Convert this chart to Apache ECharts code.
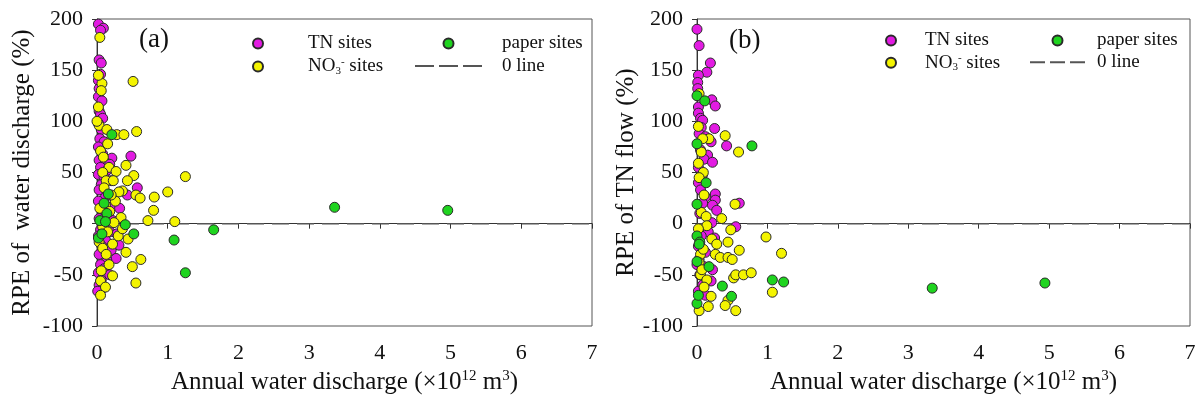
<!DOCTYPE html>
<html>
<head>
<meta charset="utf-8">
<script src="https://cdn.jsdelivr.net/npm/echarts@6/dist/echarts.min.js"></script>
<style>
html,body{margin:0;padding:0;background:#fff;}
#chart{width:1201px;height:401px;}
</style>
</head>
<body>
<div id="chart"></div>
<script>
// ---------- tick labels ----------
const X_TICKS = [0, 1, 2, 3, 4, 5, 6, 7];
const Y_TICKS = [-100, -50, 0, 50, 100, 150, 200];

// ---------- panel (a): RPE of water discharge ----------
const A_TN = [
  [0.02,195],[0.09,191],[0.05,189],[0.03,160],[0.06,157],[0.05,146],[0.02,140],[0.03,132],
  [0.02,124],[0.07,120],[0.03,110],[0.05,107],[0.08,103],[0.02,98],[0.06,92],[0.04,83],
  [0.10,80],[0.02,75],[0.08,68],[0.48,66],[0.21,64],[0.03,62],[0.12,60],[0.18,58],
  [0.05,55],[0.14,52],[0.02,48],[0.10,45],[0.20,42],[0.06,38],[0.57,35],[0.03,33],
  [0.43,28],[0.12,26],[0.02,22],[0.25,18],[0.32,15],[0.08,14],[0.16,8],[0.03,5],
  [0.22,3],[0.10,-2],[0.05,-6],[0.18,-8],[0.28,-10],[0.02,-12],[0.12,-16],[0.31,-21],
  [0.07,-22],[0.20,-26],[0.03,-30],[0.27,-34],[0.14,-36],[0.05,-40],[0.10,-44],[0.02,-48],
  [0.18,-50],[0.06,-55],[0.03,-60],[0.08,-63],[0.01,-66]
];
const A_NO3 = [
  [0.04,182],[0.07,137],[0.51,139],[0.06,130],[0.02,114],[0.03,96],[0.14,92],[0.28,87],
  [0.38,87],[0.56,90],[0.05,71],[0.41,57],[0.17,55],[0.27,51],[0.08,50],[0.52,47],
  [1.25,46],[0.43,42],[0.13,42],[0.23,42],[0.36,32],[0.31,31],[1.00,31],[0.55,28],
  [0.61,25],[0.81,26],[0.26,22],[0.12,18],[0.04,15],[0.80,13],[0.18,12],[0.34,6],
  [0.72,3],[1.10,2],[0.24,1],[0.08,-3],[0.15,-8],[0.44,-15],[0.03,-18],[0.08,-24],
  [0.22,-20],[0.41,-28],[0.13,-30],[0.62,-35],[0.17,-40],[0.50,-42],[0.06,-46],[0.22,-51],
  [0.05,-56],[0.55,-58],[0.12,-62],[0.05,-70],[0.30,-12],[0.36,-5],[0.10,35],[0.20,28],
  [0.09,65],[0.15,78],[0.00,100],[0.02,145]
];
const A_PAPER = [
  [0.21,87],[0.16,29],[0.14,10],[0.04,3],[0.12,2],[0.40,-1],[0.02,-14],[0.52,-10],
  [1.09,-16],[1.25,-48],[1.65,-6],[3.36,16],[4.96,13],[0.07,-10],[0.10,20]
];

// ---------- panel (b): RPE of TN flow ----------
const B_TN = [
  [0.00,190],[0.03,174],[0.19,157],[0.14,148],[0.02,145],[0.01,138],[0.01,132],[0.21,121],
  [0.26,115],[0.02,114],[0.02,108],[0.05,103],[0.08,101],[0.25,93],[0.06,94],[0.03,88],
  [0.12,85],[0.42,76],[0.20,80],[0.05,72],[0.15,67],[0.10,63],[0.22,60],[0.02,55],
  [0.08,48],[0.02,40],[0.05,33],[0.26,29],[0.12,26],[0.26,23],[0.08,20],[0.60,20],
  [0.22,18],[0.28,13],[0.04,10],[0.21,1],[0.55,-3],[0.16,-8],[0.06,-12],[0.25,-14],
  [0.02,-22],[0.12,-28],[0.03,-35],[0.00,-40],[0.10,-42],[0.22,-45],[0.04,-50],[0.20,-56],
  [0.08,-60],[0.02,-66],[0.12,-70]
];
const B_NO3 = [
  [0.03,127],[0.40,86],[0.17,83],[0.08,83],[0.59,70],[0.02,59],[0.09,50],[0.03,45],
  [0.54,19],[0.06,11],[0.13,7],[0.35,5],[0.14,-2],[0.48,-6],[0.98,-13],[1.20,-29],
  [0.21,-15],[0.28,-20],[0.44,-18],[0.60,-26],[0.26,-30],[0.33,-33],[0.44,-33],[0.50,-35],
  [0.05,-30],[0.09,-25],[0.03,-38],[0.05,-50],[0.14,-55],[0.52,-53],[0.55,-50],[0.66,-50],
  [0.77,-48],[1.07,-67],[0.44,-75],[0.40,-80],[0.55,-85],[0.16,-81],[0.20,-71],[0.03,-85],
  [0.10,-62],[0.07,-45],[0.02,-5],[0.10,28],[0.02,95],[0.06,70]
];
const B_PAPER = [
  [0.00,125],[0.11,120],[0.00,78],[0.78,76],[0.13,40],[0.00,19],[0.00,-12],[0.04,-18],
  [0.00,-37],[0.17,-42],[0.36,-61],[0.49,-71],[1.07,-55],[1.23,-57],[0.00,-78],[0.02,-70],
  [3.34,-63],[4.94,-58],[0.03,-20]
];

// zero reference line
const ZERO_LINE = [[0, 0], [7, 0]];

const FONT = 'Liberation Serif';
const C_TN = '#e21be2', C_NO3 = '#f4f400', C_PAPER = '#1fd41f';

const rich = {
  a:   {fontFamily: FONT, fontSize: 19, color: '#111', lineHeight: 20},
  sub: {fontFamily: FONT, fontSize: 11, color: '#111', lineHeight: 11, verticalAlign: 'bottom'},
  sup: {fontFamily: FONT, fontSize: 11, color: '#111', lineHeight: 11, verticalAlign: 'top'}
};
function legendFmt(name) {
  if (name === 'NO3- sites') return '{a|NO}{sub|3}{sup|-}{a| sites}';
  return '{a|' + name + '}';
}
const nameRich = {
  a:   {fontFamily: FONT, fontSize: 25, color: '#111', lineHeight: 28},
  sup: {fontFamily: FONT, fontSize: 15, color: '#111', lineHeight: 14, verticalAlign: 'top'}
};

function xAxis(gridIndex) {
  return {
    gridIndex, type: 'value',
    min: X_TICKS[0], max: X_TICKS[X_TICKS.length - 1], interval: X_TICKS[1] - X_TICKS[0],
    name: '{a|Annual water discharge (×10}{sup|12}{a| m}{sup|3}{a|)}',
    nameLocation: 'middle', nameGap: 42,
    nameTextStyle: {rich: nameRich},
    axisLine: {show: true, lineStyle: {color: '#333', width: 1}},
    axisTick: {show: true, inside: false, length: 5, lineStyle: {color: '#333'}},
    axisLabel: {fontFamily: FONT, fontSize: 22, color: '#111', margin: 16},
    splitLine: {show: false}
  };
}
function yAxis(gridIndex, name, gap) {
  return {
    gridIndex, type: 'value',
    min: Y_TICKS[0], max: Y_TICKS[Y_TICKS.length - 1], interval: Y_TICKS[1] - Y_TICKS[0],
    name, nameLocation: 'middle', nameGap: gap,
    nameTextStyle: {fontFamily: FONT, fontSize: 25, color: '#111'},
    axisLine: {show: true, lineStyle: {color: '#333', width: 1}},
    axisTick: {show: true, inside: false, length: 5, lineStyle: {color: '#333'}},
    axisLabel: {fontFamily: FONT, fontSize: 22, color: '#111', margin: 14},
    splitLine: {show: false}
  };
}
function scatter(name, data, color, idx) {
  return {
    name, type: 'scatter', data, xAxisIndex: idx, yAxisIndex: idx,
    symbol: 'circle', symbolSize: 10, z: 3,
    itemStyle: {color, borderColor: '#2a2a2a', borderWidth: 1, opacity: 1}
  };
}
function zero(idx) {
  return {
    name: '0 line', type: 'line', data: ZERO_LINE, xAxisIndex: idx, yAxisIndex: idx,
    symbol: 'none', z: 2, silent: true,
    lineStyle: {color: '#555', width: 1.5, type: [17, 8]},
    itemStyle: {color: '#555'}
  };
}
function legend(data, left, top, itemWidth, padLeft, gap) {
  return {
    data, orient: 'vertical', left, top, itemWidth, itemHeight: 10, itemGap: gap,
    formatter: legendFmt,
    textStyle: {rich, padding: [0, 0, 0, padLeft]}
  };
}
const DASH_L = 'path://M0,0h19v2h-19z M24,0h19v2h-19z M48,0h19v2h-19z';
const DASH_R = 'path://M0,0h15v2h-15z M20,0h15v2h-15z M40,0h15v2h-15z';

const chart = echarts.init(document.getElementById('chart'));
chart.setOption({
  backgroundColor: '#fff',
  animation: false,
  title: [
    {text: '(a)', left: 134, top: 21, textStyle: {fontFamily: FONT, fontSize: 27, fontWeight: 'normal', color: '#111'}},
    {text: '(b)', left: 724, top: 22, textStyle: {fontFamily: FONT, fontSize: 27, fontWeight: 'normal', color: '#111'}}
  ],
  grid: [
    {left: 97, top: 19, width: 495, height: 307, show: true, borderColor: '#555', borderWidth: 1, backgroundColor: 'transparent'},
    {left: 697, top: 19, width: 493, height: 307, show: true, borderColor: '#555', borderWidth: 1, backgroundColor: 'transparent'}
  ],
  legend: [
    legend(['TN sites', 'NO3- sites'], 247, 29, 10, 40, 3.5),
    legend([{name: 'paper sites'}, {name: '0 line', icon: DASH_L}], 410, 29, 67, 15, 3.5),
    legend(['TN sites', 'NO3- sites'], 880, 26, 10, 24, 2.7),
    legend([{name: 'paper sites'}, {name: '0 line', icon: DASH_R}], 1025, 26, 55, 7, 2.7)
  ],
  xAxis: [xAxis(0), xAxis(1)],
  yAxis: [yAxis(0, 'RPE of  water discharge (%)', 62), yAxis(1, 'RPE of TN flow (%)', 57)],
  series: [
    zero(0),
    scatter('TN sites', A_TN, C_TN, 0),
    scatter('NO3- sites', A_NO3, C_NO3, 0),
    scatter('paper sites', A_PAPER, C_PAPER, 0),
    zero(1),
    scatter('TN sites', B_TN, C_TN, 1),
    scatter('NO3- sites', B_NO3, C_NO3, 1),
    scatter('paper sites', B_PAPER, C_PAPER, 1)
  ]
});
</script>
</body>
</html>
